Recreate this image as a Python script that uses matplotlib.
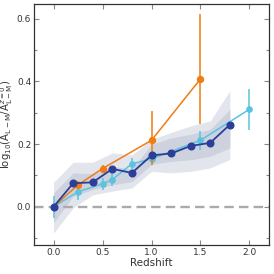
import matplotlib
matplotlib.use("Agg")
import matplotlib.pyplot as plt
from matplotlib.ticker import MultipleLocator

# Model band (dark blue) and its uncertainty regions
z_model = [0.0, 0.2, 0.4, 0.6, 0.8, 1.0, 1.2, 1.4, 1.6, 1.8]
val_model = [0.0, 0.075, 0.078, 0.121, 0.108, 0.164, 0.170, 0.194, 0.204, 0.262]
outer_hi = [0.078, 0.142, 0.142, 0.172, 0.165, 0.215, 0.237, 0.258, 0.274, 0.370]
outer_lo = [-0.084, -0.003, 0.038, 0.050, 0.060, 0.113, 0.108, 0.113, 0.124, 0.151]
inner_hi = [0.044, 0.108, 0.105, 0.129, 0.120, 0.199, 0.220, 0.231, 0.247, 0.311]
inner_lo = [-0.051, 0.033, 0.055, 0.070, 0.080, 0.135, 0.145, 0.150, 0.161, 0.188]

# Orange series
z_orange = [0.0, 0.25, 0.5, 1.0, 1.5]
val_orange = [0.0, 0.070, 0.122, 0.212, 0.408]
err_orange_lo = [0.0, 0.012, 0.012, 0.080, 0.145]
err_orange_hi = [0.0, 0.012, 0.012, 0.092, 0.207]

# Light blue series
z_light = [0.0, 0.25, 0.5, 0.6, 0.8, 1.0, 1.5, 2.0]
val_light = [0.0, 0.048, 0.073, 0.087, 0.137, 0.153, 0.212, 0.311]
err_light = [0.035, 0.025, 0.020, 0.020, 0.018, 0.020, 0.030, 0.065]

c_dark = "#2b3f99"
c_orange = "#f07d12"
c_light = "#5bc3df"

fig = plt.figure(figsize=(2.74, 2.74), dpi=100)
ax = fig.add_axes([34/274, 1-245/274, (269-34)/274, (245-4)/274])

ax.fill_between(z_model, outer_lo, outer_hi, color="#e3e5ed", lw=0, zorder=1)
ax.fill_between(z_model, inner_lo, inner_hi, color="#ced1de", lw=0, zorder=1.5)
ax.axhline(0, color="#aaaaaa", lw=1.7, ls=(0, (4, 2.2)), zorder=2)

ax.errorbar(z_light, val_light, yerr=err_light, color=c_light, marker="o", ms=3.8,
            lw=1.1, elinewidth=1.1, capsize=0, zorder=3)
ax.errorbar(z_orange, val_orange, yerr=[err_orange_lo, err_orange_hi], color=c_orange,
            marker="o", ms=4.3, lw=1.1, elinewidth=1.1, capsize=0, zorder=4)
ax.plot(z_model, val_model, color=c_dark, marker="o", ms=4.8, lw=1.3, zorder=5)

ax.set_xlim(-0.2, 2.2)
ax.set_ylim(-0.122, 0.647)
ax.set_xticks([0.0, 0.5, 1.0, 1.5, 2.0])
ax.set_yticks([0.0, 0.2, 0.4, 0.6])
ax.yaxis.set_minor_locator(MultipleLocator(0.1))
ax.tick_params(which="both", direction="in", top=True, right=True, colors="#888888",
               labelcolor="#333333", labelsize=6.5, pad=2)
ax.tick_params(which="major", length=3.5, width=0.8)
ax.tick_params(which="minor", length=2, width=0.8)
for s in ax.spines.values():
    s.set_color("#333333")
    s.set_linewidth(0.9)

ax.set_xlabel("Redshift", fontsize=7.5, color="#333333", labelpad=1)
ax.set_ylabel(r"log$_{10}$(A$_{\rm L-M}$/A$_{\rm L-M}^{z=0}$)", fontsize=7.3,
              color="#333333", labelpad=1)

fig.savefig("out.png", dpi=100)
